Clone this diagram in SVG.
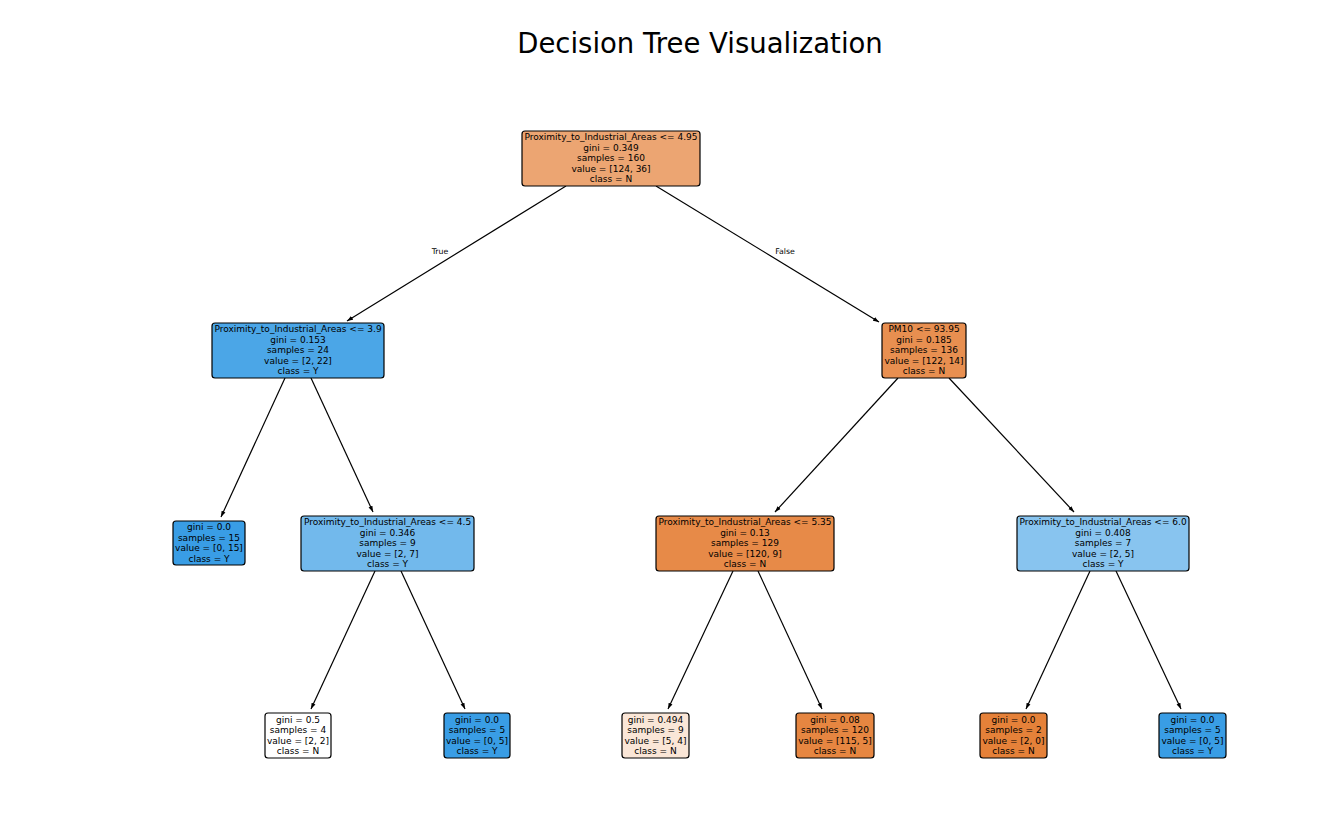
<svg xmlns="http://www.w3.org/2000/svg" width="1328" height="821" viewBox="0 0 1328 821">
  <style>
    .box { stroke: #000; stroke-width: 1.2; }
    .lbl { font-family: "DejaVu Sans", sans-serif; font-size: 9px; fill: #000; text-anchor: middle; dominant-baseline: central; }
    .edge { stroke: #000; stroke-width: 1.2; fill: none; marker-end: url(#arrow); }
    .elbl { font-family: "DejaVu Sans", sans-serif; font-size: 7.8px; fill: #000; text-anchor: middle; dominant-baseline: central; }
    .title { font-family: "DejaVu Sans", sans-serif; font-size: 27.5px; fill: #000; text-anchor: middle; }
  </style>
  <defs>
    <marker id="arrow" viewBox="0 0 10 10" refX="10" refY="5" markerWidth="6" markerHeight="6" markerUnits="userSpaceOnUse" orient="auto">
      <path d="M0,1.5 L10,5 L0,8.5 Z" fill="#000"/>
    </marker>
  </defs>
  <rect width="1328" height="821" fill="#fff"/>
  <text class="title" x="700" y="53">Decision Tree Visualization</text>

  <g id="connectors">
    <line class="edge" x1="566" y1="186" x2="347" y2="321"/>
    <line class="edge" x1="656" y1="186" x2="879" y2="322"/>
    <line class="edge" x1="285" y1="378" x2="221" y2="517"/>
    <line class="edge" x1="311" y1="378" x2="373" y2="512"/>
    <line class="edge" x1="898" y1="378" x2="775" y2="512"/>
    <line class="edge" x1="949" y1="378" x2="1074" y2="512"/>
    <line class="edge" x1="375" y1="571" x2="311" y2="709"/>
    <line class="edge" x1="401" y1="571" x2="465" y2="709"/>
    <line class="edge" x1="733" y1="571" x2="668" y2="709"/>
    <line class="edge" x1="758" y1="571" x2="822" y2="709"/>
    <line class="edge" x1="1090" y1="571" x2="1026" y2="709"/>
    <line class="edge" x1="1116" y1="571" x2="1181" y2="709"/>
    <text class="elbl" x="440" y="251">True</text>
    <text class="elbl" x="785" y="251">False</text>
  </g>

  <g id="node0">
    <rect class="box" x="522" y="131" width="178" height="55" rx="3" fill="#eca572"/>
    <text class="lbl" x="611" y="137">Proximity_to_Industrial_Areas &lt;= 4.95</text>
    <text class="lbl" x="611" y="147.5">gini = 0.349</text>
    <text class="lbl" x="611" y="158">samples = 160</text>
    <text class="lbl" x="611" y="168.5">value = [124, 36]</text>
    <text class="lbl" x="611" y="179">class = N</text>
  </g>

  <g id="node1">
    <rect class="box" x="212" y="323" width="172" height="55" rx="3" fill="#4ba6e7"/>
    <text class="lbl" x="298" y="329">Proximity_to_Industrial_Areas &lt;= 3.9</text>
    <text class="lbl" x="298" y="339.5">gini = 0.153</text>
    <text class="lbl" x="298" y="350">samples = 24</text>
    <text class="lbl" x="298" y="360.5">value = [2, 22]</text>
    <text class="lbl" x="298" y="371">class = Y</text>
  </g>

  <g id="node2">
    <rect class="box" x="173" y="521" width="72" height="44" rx="3" fill="#399de5"/>
    <text class="lbl" x="209" y="527">gini = 0.0</text>
    <text class="lbl" x="209" y="537.5">samples = 15</text>
    <text class="lbl" x="209" y="548">value = [0, 15]</text>
    <text class="lbl" x="209" y="558.5">class = Y</text>
  </g>

  <g id="node3">
    <rect class="box" x="301" y="516" width="173" height="55" rx="3" fill="#72b9ec"/>
    <text class="lbl" x="387.5" y="522">Proximity_to_Industrial_Areas &lt;= 4.5</text>
    <text class="lbl" x="387.5" y="532.5">gini = 0.346</text>
    <text class="lbl" x="387.5" y="543">samples = 9</text>
    <text class="lbl" x="387.5" y="553.5">value = [2, 7]</text>
    <text class="lbl" x="387.5" y="564">class = Y</text>
  </g>

  <g id="node4">
    <rect class="box" x="265" y="713" width="66" height="45" rx="3" fill="#ffffff"/>
    <text class="lbl" x="298" y="719.5">gini = 0.5</text>
    <text class="lbl" x="298" y="730">samples = 4</text>
    <text class="lbl" x="298" y="740.5">value = [2, 2]</text>
    <text class="lbl" x="298" y="751">class = N</text>
  </g>

  <g id="node5">
    <rect class="box" x="444" y="713" width="66" height="45" rx="3" fill="#399de5"/>
    <text class="lbl" x="477" y="719.5">gini = 0.0</text>
    <text class="lbl" x="477" y="730">samples = 5</text>
    <text class="lbl" x="477" y="740.5">value = [0, 5]</text>
    <text class="lbl" x="477" y="751">class = Y</text>
  </g>

  <g id="node6">
    <rect class="box" x="882" y="323" width="84" height="55" rx="3" fill="#e88f50"/>
    <text class="lbl" x="924" y="329">PM10 &lt;= 93.95</text>
    <text class="lbl" x="924" y="339.5">gini = 0.185</text>
    <text class="lbl" x="924" y="350">samples = 136</text>
    <text class="lbl" x="924" y="360.5">value = [122, 14]</text>
    <text class="lbl" x="924" y="371">class = N</text>
  </g>

  <g id="node7">
    <rect class="box" x="656" y="516" width="178" height="55" rx="3" fill="#e78a48"/>
    <text class="lbl" x="745" y="522">Proximity_to_Industrial_Areas &lt;= 5.35</text>
    <text class="lbl" x="745" y="532.5">gini = 0.13</text>
    <text class="lbl" x="745" y="543">samples = 129</text>
    <text class="lbl" x="745" y="553.5">value = [120, 9]</text>
    <text class="lbl" x="745" y="564">class = N</text>
  </g>

  <g id="node8">
    <rect class="box" x="622" y="713" width="67" height="45" rx="3" fill="#fae6d7"/>
    <text class="lbl" x="655.5" y="719.5">gini = 0.494</text>
    <text class="lbl" x="655.5" y="730">samples = 9</text>
    <text class="lbl" x="655.5" y="740.5">value = [5, 4]</text>
    <text class="lbl" x="655.5" y="751">class = N</text>
  </g>

  <g id="node9">
    <rect class="box" x="796" y="713" width="78" height="45" rx="3" fill="#e68641"/>
    <text class="lbl" x="835" y="719.5">gini = 0.08</text>
    <text class="lbl" x="835" y="730">samples = 120</text>
    <text class="lbl" x="835" y="740.5">value = [115, 5]</text>
    <text class="lbl" x="835" y="751">class = N</text>
  </g>

  <g id="node10">
    <rect class="box" x="1017" y="516" width="172" height="55" rx="3" fill="#88c4ef"/>
    <text class="lbl" x="1103" y="522">Proximity_to_Industrial_Areas &lt;= 6.0</text>
    <text class="lbl" x="1103" y="532.5">gini = 0.408</text>
    <text class="lbl" x="1103" y="543">samples = 7</text>
    <text class="lbl" x="1103" y="553.5">value = [2, 5]</text>
    <text class="lbl" x="1103" y="564">class = Y</text>
  </g>

  <g id="node11">
    <rect class="box" x="980" y="713" width="67" height="45" rx="3" fill="#e58139"/>
    <text class="lbl" x="1013.5" y="719.5">gini = 0.0</text>
    <text class="lbl" x="1013.5" y="730">samples = 2</text>
    <text class="lbl" x="1013.5" y="740.5">value = [2, 0]</text>
    <text class="lbl" x="1013.5" y="751">class = N</text>
  </g>

  <g id="node12">
    <rect class="box" x="1159" y="713" width="67" height="45" rx="3" fill="#399de5"/>
    <text class="lbl" x="1192.5" y="719.5">gini = 0.0</text>
    <text class="lbl" x="1192.5" y="730">samples = 5</text>
    <text class="lbl" x="1192.5" y="740.5">value = [0, 5]</text>
    <text class="lbl" x="1192.5" y="751">class = Y</text>
  </g>
</svg>
